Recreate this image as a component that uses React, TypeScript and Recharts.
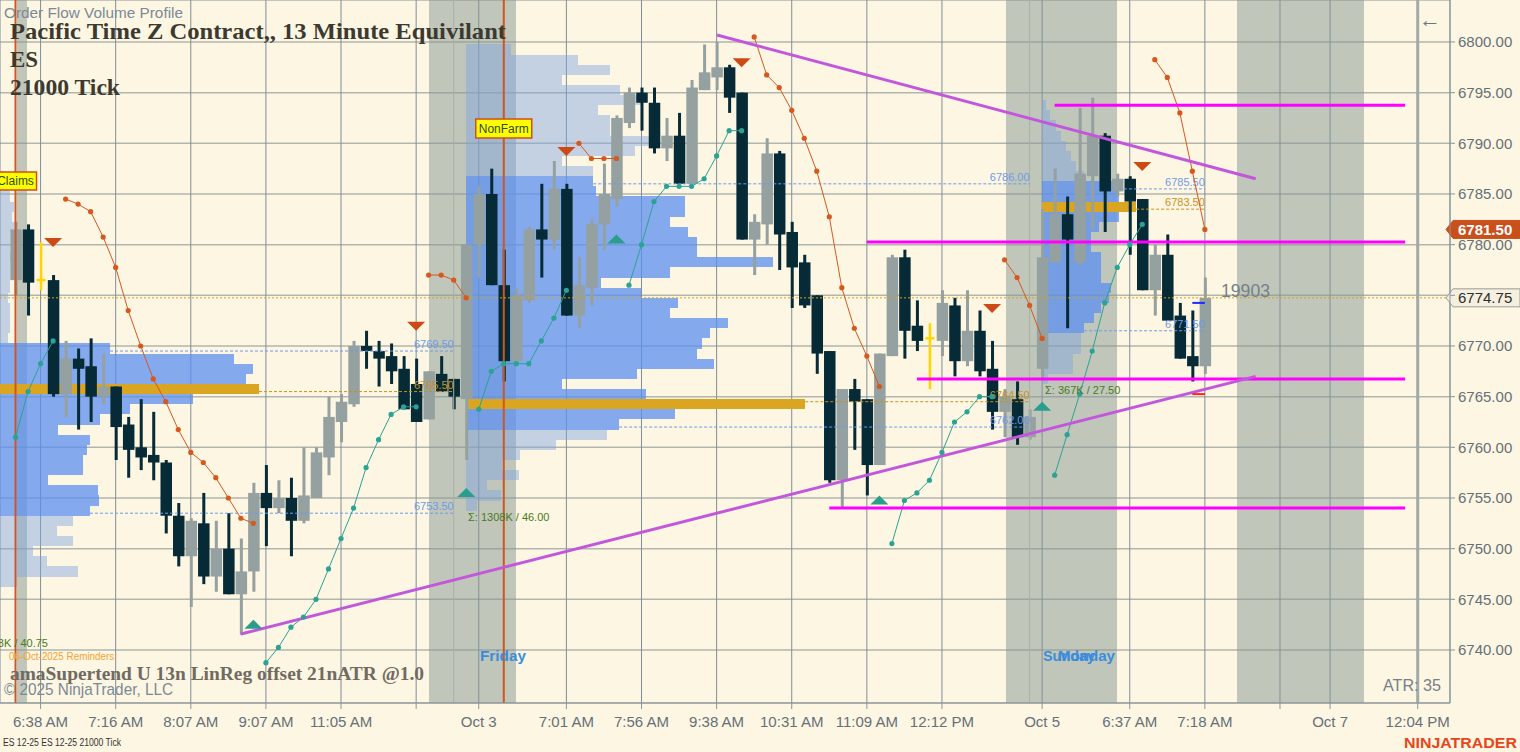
import React from "react";
import {
  ComposedChart,
  Bar,
  Line,
  Scatter,
  XAxis,
  YAxis,
  CartesianGrid,
  ReferenceLine,
  ReferenceArea,
} from "recharts";

// ---------- ES 12-25, 21000 tick bars ----------
const OPEN = [
  6776.5, 6781.5, 6776.5, 6776.5, 6765.25, 6768.75, 6768.0, 6765.0, 6766.0, 6762.25,
  6760.0, 6759.25, 6758.5, 6753.25, 6749.25, 6752.5, 6747.25, 6750.0, 6745.5, 6747.75,
  6755.5, 6754.0, 6755.0, 6752.75, 6755.0, 6759.0, 6762.5, 6764.25, 6770.0, 6769.5,
  6769.0, 6767.75, 6766.25, 6762.75, 6767.25, 6766.75, 6764.75, 6780.0, 6785.0, 6776.0,
  6768.5, 6774.5, 6781.5, 6780.5, 6785.5, 6773.0, 6775.75, 6782.0, 6784.5, 6792.0,
  6795.0, 6794.0, 6789.5, 6790.75, 6786.0, 6795.25, 6796.5, 6797.5, 6795.0, 6780.5,
  6782.0, 6789.0, 6781.25, 6778.25, 6775.0, 6769.5, 6756.75, 6765.75, 6764.75, 6758.25,
  6769.0, 6778.75, 6772.0, 6770.75, 6770.5, 6774.0, 6768.5, 6771.5, 6767.75, 6763.5,
  6764.75, 6761.0, 6767.75, 6778.25, 6783.0, 6778.25, 6786.75, 6790.75, 6785.25, 6786.5,
  6784.5, 6775.5, 6779.0, 6773.0, 6769.0, 6768.0,
];
const HIGH = [
  6782.25, 6782.0, 6780.25, 6777.0, 6770.5, 6769.75, 6770.75, 6769.25, 6766.0, 6763.0,
  6764.75, 6763.5, 6758.75, 6754.5, 6753.0, 6755.5, 6752.75, 6753.5, 6751.0, 6756.5,
  6758.25, 6756.75, 6757.0, 6760.0, 6760.0, 6765.0, 6765.25, 6770.5, 6771.5, 6770.5,
  6770.25, 6769.0, 6768.75, 6767.5, 6769.0, 6766.75, 6780.0, 6785.75, 6787.5, 6779.5,
  6775.75, 6781.75, 6786.0, 6788.25, 6786.0, 6778.75, 6782.5, 6788.0, 6792.75, 6795.5,
  6795.5, 6795.5, 6792.5, 6793.0, 6796.25, 6799.75, 6800.0, 6797.75, 6795.0, 6783.0,
  6790.5, 6789.25, 6782.25, 6779.0, 6775.0, 6769.5, 6765.75, 6766.75, 6764.75, 6769.25,
  6779.0, 6779.5, 6774.5, 6772.25, 6775.5, 6774.75, 6775.5, 6773.5, 6770.5, 6765.75,
  6766.5, 6763.75, 6783.5, 6787.5, 6784.75, 6793.5, 6794.5, 6791.0, 6787.0, 6786.75,
  6784.5, 6780.0, 6781.0, 6774.25, 6773.5, 6776.75,
];
const LOW = [
  6775.0, 6773.0, 6775.5, 6765.0, 6763.0, 6761.75, 6762.5, 6764.25, 6758.75, 6757.0,
  6757.75, 6756.75, 6751.5, 6748.25, 6744.25, 6746.5, 6745.75, 6745.5, 6741.5, 6745.75,
  6750.25, 6753.5, 6749.25, 6752.5, 6755.0, 6757.25, 6760.5, 6764.0, 6767.75, 6766.0,
  6766.25, 6763.75, 6762.5, 6762.75, 6765.5, 6763.75, 6758.75, 6776.75, 6776.0, 6766.5,
  6768.5, 6774.25, 6776.75, 6779.5, 6773.0, 6771.75, 6774.0, 6779.5, 6783.75, 6791.5,
  6791.25, 6789.0, 6788.25, 6786.0, 6786.0, 6795.25, 6795.25, 6793.0, 6780.5, 6777.0,
  6780.0, 6777.5, 6773.75, 6773.75, 6767.25, 6756.5, 6754.0, 6759.75, 6755.25, 6758.25,
  6769.0, 6768.75, 6769.5, 6765.75, 6769.0, 6767.0, 6768.0, 6767.0, 6761.75, 6761.0,
  6760.25, 6760.75, 6766.75, 6778.25, 6771.75, 6778.0, 6781.5, 6781.25, 6784.75, 6779.0,
  6775.5, 6773.0, 6772.5, 6768.75, 6766.5, 6767.25,
];
const CLOSE = [
  6781.5, 6776.25, 6776.5, 6765.25, 6768.75, 6767.75, 6765.0, 6766.0, 6762.0, 6759.75,
  6759.0, 6758.5, 6753.25, 6749.25, 6752.75, 6747.25, 6750.0, 6745.5, 6747.75, 6755.5,
  6754.0, 6755.0, 6752.75, 6755.25, 6759.5, 6763.0, 6764.5, 6770.0, 6769.5, 6768.75,
  6767.5, 6763.75, 6762.5, 6767.5, 6765.5, 6765.0, 6780.0, 6785.0, 6776.0, 6768.5,
  6775.0, 6781.5, 6780.5, 6785.5, 6773.0, 6776.0, 6782.0, 6785.0, 6792.5, 6795.0,
  6794.0, 6789.5, 6790.75, 6786.0, 6795.5, 6797.0, 6797.5, 6794.5, 6780.5, 6782.25,
  6789.0, 6781.0, 6777.75, 6774.0, 6769.25, 6756.75, 6765.75, 6764.5, 6758.25, 6769.25,
  6778.75, 6771.5, 6770.5, 6770.75, 6774.25, 6768.5, 6771.5, 6767.5, 6763.5, 6765.0,
  6761.0, 6763.0, 6778.75, 6783.0, 6780.5, 6787.0, 6790.75, 6785.25, 6786.5, 6784.25,
  6775.5, 6779.0, 6772.5, 6768.75, 6768.0, 6774.75,
];
// bars painted by the pattern marker
const MARKED_BARS = [2, 73];

// ---------- amaSupertrend stops [bar, price] ----------
const STOP_DOWN: [number, number][] = [
  [4, 6784.5], [5, 6784.0], [6, 6783.25], [7, 6780.75], [8, 6777.75], [9, 6773.5], [10, 6770.0],
  [11, 6766.75], [12, 6764.5], [13, 6761.75], [14, 6759.5], [15, 6758.5], [16, 6757.0],
  [17, 6755.0], [18, 6753.0], [19, 6752.5],
  [33, 6777.0], [34, 6777.0], [35, 6776.5], [36, 6774.75],
  [45, 6790.0], [46, 6788.5], [47, 6788.5], [48, 6788.5],
  [59, 6800.5], [60, 6796.75], [61, 6795.5], [62, 6793.25], [63, 6790.5], [64, 6787.25],
  [65, 6782.75], [66, 6775.75], [67, 6771.75], [68, 6769.0], [69, 6766.0],
  [79, 6778.5], [80, 6776.75], [81, 6774.0], [82, 6770.75],
  [91, 6798.25], [92, 6796.5], [93, 6793.0], [94, 6787.25], [95, 6781.5],
];
const STOP_UP: [number, number][] = [
  [0, 6761.0], [1, 6765.5], [2, 6768.25], [3, 6770.5],
  [20, 6738.75], [21, 6740.25], [22, 6742.25], [23, 6743.25], [24, 6745.0], [25, 6748.0],
  [26, 6751.0], [27, 6754.0], [28, 6758.0], [29, 6760.75], [30, 6763.25], [31, 6764.0], [32, 6764.0],
  [37, 6763.75], [38, 6767.5], [39, 6768.25], [40, 6768.25], [41, 6768.25], [42, 6770.5],
  [43, 6772.75], [44, 6775.5],
  [49, 6776.0], [50, 6780.0], [51, 6784.25], [52, 6785.75], [53, 6785.75], [54, 6785.75],
  [55, 6786.5], [56, 6788.75], [57, 6791.25], [58, 6791.25],
  [70, 6750.5], [71, 6754.75], [72, 6755.5], [73, 6756.75], [74, 6759.5], [75, 6762.5],
  [76, 6763.5], [77, 6765.0], [78, 6765.0],
  [83, 6757.25], [84, 6761.25], [85, 6765.25], [86, 6769.5], [87, 6774.25], [88, 6777.75],
  [89, 6780.0], [90, 6782.0],
];
const SELL_SIGNALS: [number, number][] = [
  [3, 6780.25], [32, 6772.0], [44, 6789.25], [58, 6798.0], [78, 6773.75], [90, 6787.75],
];
const BUY_SIGNALS: [number, number][] = [
  [19, 6742.5], [36, 6755.5], [48, 6780.5], [69, 6754.75], [82, 6764.0],
];

// ---------- Order Flow Volume Profile (K contracts per 1-point row, top row first) ----------
const VP_LEFT_VOL = [
  1.8, 2.4, 3.0, 4.2, 3.6, 4.2, 3.0, 3.0, 3.3, 3.0, 3.0, 3.0, 2.4, 3.0, 3.0, 3.0, 2.4,
  33.0, 70.2, 75.9, 73.8, 77.7, 57.9, 39.0, 30.0, 17.4, 27.0, 26.1, 24.9, 24.9, 14.4, 29.4, 29.7, 27.0,
  21.9, 17.1, 21.9, 9.9, 14.1, 23.4, 5.1,
];
const VP_MID_VOL = [
  8.0, 19.8, 25.5, 17.1, 27.4, 31.0, 23.5, 25.6, 25.6, 34.0, 30.1, 17.1, 22.6,
  22.6, 23.0, 39.0, 39.0, 36.3, 39.5, 41.1, 41.1, 54.6, 36.3, 23.9, 31.0, 37.7, 36.3, 46.5,
  43.4, 42.0, 41.1, 44.0, 30.4, 17.1, 31.9, 60.3, 37.2, 27.2,
  25.1, 16.0, 9.6, 6.4, 9.3, 3.7, 6.1, 2.0,
];
const VP_RIGHT_VOL = [
  1.0, 2.3, 4.1, 5.5, 7.0, 8.4, 9.9, 12.2,
  22.3, 22.3, 27.3, 22.3, 16.5, 14.2, 14.2, 17.1, 17.1, 17.1, 20.0, 19.4, 17.1, 15.1, 12.2,
  11.3, 11.3, 9.0, 9.0, 1.8,
];
const VP_TOP_ROW = [6786.75, 6799.25, 6793.75];
const VP_START_BAR = [-1.24, 36, 82];
const VP_SESSION_END = [35, 81, 95];
const VP_VAH = [6769.5, 6786.0, 6785.5];
const VP_VAL = [6753.5, 6762.0, 6771.5];
const VP_POC = [6765.5, 6764.5, 6783.5];
const VP_RANGE = [40.75, 46.0, 27.5];

// ---------- chart furniture ----------
const X_MIN = -1.24;
const X_MAX = 114.58;
const PRICE_MIN = 6734.77;
const PRICE_MAX = 6804.14;
const PRICE_TICKS = [6740, 6745, 6750, 6755, 6760, 6765, 6770, 6775, 6780, 6785, 6790, 6795, 6800];
const TIME_TICK_BARS = [2, 8, 14, 20, 26, 32, 37, 44, 50, 56, 62, 68, 74, 82, 89, 95, 101, 105, 112];
const TIME_TICK_LABELS = [
  "6:38 AM", "7:16 AM", "8:07 AM", "9:07 AM", "11:05 AM", "", "Oct 3", "7:01 AM", "7:56 AM",
  "9:38 AM", "10:31 AM", "11:09 AM", "12:12 PM", "Oct 5", "6:37 AM", "7:18 AM", "", "Oct 7", "12:04 PM",
];
const SESSION_SHADES: [number, number][] = [[0.1, 0.9], [33, 40], [79.1, 88], [97.6, 107.7]];
const SESSION_BREAK_BARS = [35, 81];
const EVENT_BARS = [0, 39];
const EVENT_NAMES = ["Claims", "NonFarm"];
const NOW_BAR = 112;
const LEVELS = [6793.75, 6780.25, 6766.75, 6754.0];
const LEVEL_FROM = [83, 68, 72, 65];
const LEVEL_TO = 111;
const TRENDLINES: [number, number, number, number][] = [
  [56.03, 6800.69, 99.06, 6786.5],
  [18.01, 6741.58, 99.06, 6767.0],
];
const ORDER_MARKS: [number, number, number, string][] = [
  [94, 95, 6774.25, "#1a2cff"],
  [94, 95, 6765.25, "#ff2020"],
];

const BG = "#fdf6e3";
const UP_COLOR = "#95a0a0";
const DOWN_COLOR = "#062a36";
const MARK_COLOR = "#ffd400";
const STOP_DOWN_COLOR = "#d5581f";
const STOP_UP_COLOR = "#2aa394";
const SANS = '"Liberation Sans", Arial, sans-serif';
const SERIF = '"Liberation Serif", "Times New Roman", serif';
const AXIS_TEXT = "#667078";

const downMap = new Map(STOP_DOWN);
const upMap = new Map(STOP_UP);
const bars = OPEN.map((o, i) => ({
  i,
  o,
  h: HIGH[i],
  l: LOW[i],
  c: CLOSE[i],
  range: [LOW[i], HIGH[i]],
  marked: MARKED_BARS.includes(i),
  dn: downMap.has(i) ? downMap.get(i) : null,
  up: upMap.has(i) ? upMap.get(i) : null,
}));
const sells = SELL_SIGNALS.map(([i, p]) => ({ i, p }));
const buys = BUY_SIGNALS.map(([i, p]) => ({ i, p }));
const LAST_PRICE = CLOSE[CLOSE.length - 1];
const LAST_STOP = STOP_DOWN[STOP_DOWN.length - 1][1];

// widest row of each profile spans this many bars
const VP_MAX_SPAN = [20.69, 27.08, 7.51];

const profiles = [VP_LEFT_VOL, VP_MID_VOL, VP_RIGHT_VOL].map((vols, k) => {
  const max = Math.max(...vols);
  const rows = vols.map((v, r) => {
    const c = VP_TOP_ROW[k] - r;
    return {
      c,
      x2: VP_START_BAR[k] + (v / max) * VP_MAX_SPAN[k],
      poc: v === max,
      va: c + 0.5 > VP_VAL[k] && c - 0.5 <= VP_VAH[k],
    };
  });
  const rowEnd = (p: number) => {
    const r = rows.find((row) => p >= row.c - 0.5 && p < row.c + 0.5);
    return r ? r.x2 : VP_START_BAR[k];
  };
  const total = vols.reduce((a, b) => a + b, 0);
  return { k, rows, rowEnd, total };
});

function Candle(props: any) {
  const { x, y, width, height, payload } = props;
  if (!payload || x == null || y == null) return null;
  const top = Math.min(y, y + height);
  const bottom = Math.max(y, y + height);
  const span = payload.h - payload.l;
  const py = (p: number) => (span > 0 ? top + ((payload.h - p) / span) * (bottom - top) : top);
  const cx = x + width / 2;
  if (payload.marked) {
    const yc = py(payload.c);
    return (
      <g>
        <rect x={cx - 1.25} y={top} width={2.5} height={bottom - top} fill={MARK_COLOR} />
        <rect x={cx - 4.5} y={yc - 1.25} width={9} height={2.5} fill={MARK_COLOR} />
      </g>
    );
  }
  const color = payload.c >= payload.o ? UP_COLOR : DOWN_COLOR;
  const yo = py(payload.o);
  const yc = py(payload.c);
  const bTop = Math.min(yo, yc);
  const bH = Math.max(1.5, Math.abs(yc - yo));
  return (
    <g>
      <rect x={cx - 1.5} y={top} width={3} height={Math.max(1, bottom - top)} fill={color} />
      <rect x={x} y={bTop} width={width} height={bH} fill={color} />
    </g>
  );
}

// price labels; the one under the last-price tag is covered by the tag
function PriceTick(props: any) {
  const { x, y, payload, textAnchor } = props;
  if (Math.abs(payload.value - LAST_PRICE) < 1.5) return null;
  return (
    <text x={x} y={y} dy="0.355em" textAnchor={textAnchor || "start"} fill={AXIS_TEXT} fontSize={15} fontFamily={SANS}>
      {Number(payload.value).toFixed(2)}
    </text>
  );
}

const SellTri = (p: any) => (
  <polygon points={`${p.cx - 9},${p.cy - 4} ${p.cx + 9},${p.cy - 4} ${p.cx},${p.cy + 5}`} fill="#cc4a15" />
);
const BuyTri = (p: any) => (
  <polygon points={`${p.cx - 9},${p.cy + 4} ${p.cx + 9},${p.cy + 4} ${p.cx},${p.cy - 5}`} fill="#2a9d8c" />
);

const lineLabel = (text: string, color: string) => (props: any) => {
  const vb = props.viewBox || {};
  return (
    <text x={vb.x + vb.width} y={vb.y - 3} textAnchor="end" fontSize={11} fontFamily={SANS} fill={color}>
      {text}
    </text>
  );
};

const eventLabel = (text: string, top: number, w: number, h: number) => (props: any) => {
  const vb = props.viewBox || {};
  return (
    <g>
      <rect x={vb.x - w / 2} y={top} width={w} height={h} fill="#ffff00" stroke="#d24e1c" strokeWidth={1.5} />
      <text x={vb.x} y={top + h / 2 + 4} textAnchor="middle" fontSize={12} fontFamily={SANS} fill="#2f4a1c">
        {text}
      </text>
    </g>
  );
};

const priceTag = (text: string, fill: string, stroke: string, color: string, bold: boolean) => (props: any) => {
  const vb = props.viewBox || {};
  const x0 = vb.x + vb.width - 4;
  const y0 = vb.y;
  const h = 18;
  return (
    <g>
      <polygon
        points={`${x0},${y0} ${x0 + 7},${y0 - h / 2} ${x0 + 74},${y0 - h / 2} ${x0 + 74},${y0 + h / 2} ${x0 + 7},${y0 + h / 2}`}
        fill={fill}
        stroke={stroke}
        strokeWidth={1}
      />
      <text x={x0 + 12} y={y0 + 5.5} fontSize={15} fontWeight={bold ? 700 : 400} fontFamily={SANS} fill={color}>
        {text}
      </text>
    </g>
  );
};

const rowShape = (fill: string, opacity: number) => (p: any) => (
  <rect x={p.x} y={p.y} width={p.width} height={p.height} fill={fill} fillOpacity={opacity} shapeRendering="crispEdges" />
);

export default function App() {
  return (
    <div style={{ position: "absolute", left: 0, top: 0, width: 1520, height: 752, background: BG, overflow: "hidden" }}>
      <ComposedChart width={1520} height={752} data={bars} margin={{ top: 0, right: 0, bottom: 0, left: 0 }}>
        {SESSION_SHADES.map(([a, b], n) => (
          <ReferenceArea key={`s${n}`} x1={a} x2={b} ifOverflow="hidden" shape={rowShape("#839691", 0.5)} />
        ))}
        <CartesianGrid vertical={false} stroke="#b2b6ae" strokeWidth={1.5} />
        <CartesianGrid horizontal={false} stroke="#7f8e99" strokeWidth={1} />
        <XAxis
          dataKey="i"
          type="number"
          domain={[X_MIN, X_MAX]}
          allowDataOverflow
          ticks={TIME_TICK_BARS}
          interval={0}
          tickFormatter={(v: number) => TIME_TICK_LABELS[TIME_TICK_BARS.indexOf(v)] ?? ""}
          height={49}
          tickSize={6}
          tickMargin={7}
          stroke="#8b959b"
          tick={{ fill: AXIS_TEXT, fontSize: 15, fontFamily: SANS }}
        />
        <YAxis
          orientation="right"
          type="number"
          domain={[PRICE_MIN, PRICE_MAX]}
          allowDataOverflow
          ticks={PRICE_TICKS}
          interval={0}
          width={70}
          tickSize={5}
          tickMargin={3}
          stroke="#8b959b"
          tick={<PriceTick />}
        />
        {SESSION_BREAK_BARS.map((b) => (
          <ReferenceLine key={`b${b}`} x={b} stroke="#a9b0aa" strokeWidth={1} />
        ))}
        <ReferenceLine x={NOW_BAR} stroke="#a2aaa8" strokeWidth={3} />

        {profiles.map((pf) =>
          pf.rows.map((r, n) => (
            <ReferenceArea
              key={`vp${pf.k}-${n}`}
              x1={VP_START_BAR[pf.k]}
              x2={r.x2}
              y1={r.c - 0.5}
              y2={r.c + 0.5}
              ifOverflow="hidden"
              shape={r.poc ? rowShape("#daa520", 1) : r.va ? rowShape("#5b8ff0", 0.75) : rowShape("#7fa3e0", 0.45)}
            />
          ))
        )}
        {profiles.map((pf) => {
          const k = pf.k;
          const end = VP_SESSION_END[k];
          return [
            <ReferenceLine
              key={`vah${k}`}
              segment={[{ x: pf.rowEnd(VP_VAH[k]), y: VP_VAH[k] }, { x: end, y: VP_VAH[k] }]}
              stroke="#6f9be8"
              strokeDasharray="3 2"
              ifOverflow="visible"
              label={lineLabel(VP_VAH[k].toFixed(2), "#6f9be8")}
            />,
            <ReferenceLine
              key={`val${k}`}
              segment={[{ x: pf.rowEnd(VP_VAL[k]), y: VP_VAL[k] }, { x: end, y: VP_VAL[k] }]}
              stroke="#6f9be8"
              strokeDasharray="3 2"
              ifOverflow="visible"
              label={lineLabel(VP_VAL[k].toFixed(2), "#6f9be8")}
            />,
            <ReferenceLine
              key={`poc${k}`}
              segment={[{ x: pf.rowEnd(VP_POC[k]), y: VP_POC[k] }, { x: end, y: VP_POC[k] }]}
              stroke="#c8921c"
              strokeDasharray="3 2"
              ifOverflow="visible"
              label={lineLabel(VP_POC[k].toFixed(2), "#c8921c")}
            />,
          ];
        })}
        {EVENT_BARS.map((b, n) => (
          <ReferenceLine
            key={`e${b}`}
            x={b}
            stroke="#d2541f"
            strokeWidth={2}
            ifOverflow="visible"
            label={n === 0 ? eventLabel(EVENT_NAMES[n], 172, 42, 18) : eventLabel(EVENT_NAMES[n], 119, 56, 19)}
          />
        ))}
        <ReferenceLine y={LAST_PRICE} stroke="#d4a11c" strokeDasharray="2 2" strokeWidth={1} />

        <Bar dataKey="range" barSize={11.5} shape={<Candle />} isAnimationActive={false} />

        <Line
          dataKey="dn"
          stroke={STOP_DOWN_COLOR}
          strokeWidth={1}
          dot={{ r: 2.6, fill: STOP_DOWN_COLOR, stroke: STOP_DOWN_COLOR, strokeWidth: 0 }}
          activeDot={false}
          connectNulls={false}
          isAnimationActive={false}
        />
        <Line
          dataKey="up"
          stroke={STOP_UP_COLOR}
          strokeWidth={1}
          dot={{ r: 2.6, fill: STOP_UP_COLOR, stroke: STOP_UP_COLOR, strokeWidth: 0 }}
          activeDot={false}
          connectNulls={false}
          isAnimationActive={false}
        />
        <Scatter data={sells} dataKey="p" shape={SellTri} isAnimationActive={false} />
        <Scatter data={buys} dataKey="p" shape={BuyTri} isAnimationActive={false} />

        {LEVELS.map((p, n) => (
          <ReferenceLine
            key={`lv${n}`}
            segment={[{ x: LEVEL_FROM[n], y: p }, { x: LEVEL_TO, y: p }]}
            stroke="#ff00ff"
            strokeWidth={3}
            ifOverflow="visible"
          />
        ))}
        {TRENDLINES.map(([x1, y1, x2, y2], n) => (
          <ReferenceLine
            key={`tl${n}`}
            segment={[{ x: x1, y: y1 }, { x: x2, y: y2 }]}
            stroke="#c257dc"
            strokeWidth={3}
            ifOverflow="visible"
          />
        ))}
        {ORDER_MARKS.map(([a, b, p, col], n) => (
          <ReferenceLine key={`om${n}`} segment={[{ x: a, y: p }, { x: b, y: p }]} stroke={col} strokeWidth={2} ifOverflow="visible" />
        ))}
        <ReferenceLine
          y={LAST_PRICE}
          stroke="none"
          strokeOpacity={0}
          label={priceTag(LAST_PRICE.toFixed(2), "#f5efdf", "#9a9c98", "#2d2d2d", false)}
        />
        <ReferenceLine
          y={LAST_STOP}
          stroke="none"
          strokeOpacity={0}
          label={priceTag(LAST_STOP.toFixed(2), "#c9501c", "#c9501c", "#ffffff", true)}
        />
      </ComposedChart>

      <svg width={1520} height={752} style={{ position: "absolute", left: 0, top: 0, pointerEvents: "none" }}>
        <text x={4} y={18} fontSize={15} fontFamily={SANS} fill="#7b8a96" textLength={179} lengthAdjust="spacingAndGlyphs">
          Order Flow Volume Profile
        </text>
        <text x={10} y={39} fontSize={23} fontWeight={700} fontFamily={SERIF} fill="#3c3a30" textLength={496} lengthAdjust="spacingAndGlyphs">
          Pacific Time Z Contract,, 13 Minute Equivilant
        </text>
        <text x={10} y={67} fontSize={23} fontWeight={700} fontFamily={SERIF} fill="#3c3a30">
          ES
        </text>
        <text x={10} y={95} fontSize={23} fontWeight={700} fontFamily={SERIF} fill="#3c3a30" textLength={110} lengthAdjust="spacingAndGlyphs">
          21000 Tick
        </text>
        <text x={48} y={647} textAnchor="end" fontSize={11} fontFamily={SANS} fill="#4a7a22">
          {`Σ: ${Math.round(profiles[0].total)}K / ${VP_RANGE[0].toFixed(2)}`}
        </text>
        <text x={468} y={521} fontSize={11} fontFamily={SANS} fill="#4a7a22">
          {`Σ: ${Math.round(profiles[1].total)}K / ${VP_RANGE[1].toFixed(2)}`}
        </text>
        <text x={1045} y={394} fontSize={11} fontFamily={SANS} fill="#4a7a22">
          {`Σ: ${Math.round(profiles[2].total)}K / ${VP_RANGE[2].toFixed(2)}`}
        </text>
        <text x={9} y={660} fontSize={10.5} fontFamily={SANS} fill="#f4a22c" textLength={108} lengthAdjust="spacingAndGlyphs">
          06-Oct-2025 Reminders:
        </text>
        <text x={10} y={680} fontSize={19} fontWeight={700} fontFamily={SERIF} fill="#706b62" textLength={414} lengthAdjust="spacingAndGlyphs">
          amaSupertend U 13n LinReg offset 21nATR @1.0
        </text>
        <text x={4} y={695} fontSize={17} fontFamily={SANS} fill="#7b8a96" textLength={169} lengthAdjust="spacingAndGlyphs">
          © 2025 NinjaTrader, LLC
        </text>
        <text x={503} y={661} textAnchor="middle" fontSize={15} fontWeight={700} fontFamily={SANS} fill="#3b8ddb" textLength={46} lengthAdjust="spacingAndGlyphs">
          Friday
        </text>
        <text x={1043} y={661} fontSize={15} fontWeight={700} fontFamily={SANS} fill="#3b8ddb" textLength={52} lengthAdjust="spacingAndGlyphs">
          Sunday
        </text>
        <text x={1058} y={661} fontSize={15} fontWeight={700} fontFamily={SANS} fill="#3b8ddb" textLength={57} lengthAdjust="spacingAndGlyphs">
          Monday
        </text>
        <text x={1221} y={297} fontSize={18} fontFamily={SANS} fill="#75808a" textLength={49} lengthAdjust="spacingAndGlyphs">
          19903
        </text>
        <text x={1441} y={691} textAnchor="end" fontSize={16} fontFamily={SANS} fill="#75808a" textLength={58} lengthAdjust="spacingAndGlyphs">
          ATR: 35
        </text>
        <text x={1419} y={27} fontSize={22} fontFamily={SANS} fill="#6c777f">
          ←
        </text>
        <text x={3} y={746} fontSize={10} fontFamily={SANS} fill="#333333" textLength={118} lengthAdjust="spacingAndGlyphs">
          ES 12-25 ES 12-25 21000 Tick
        </text>
        <text x={1404} y={748} fontSize={14} fontWeight={700} fontFamily={SANS} fill="#e5461c" textLength={113} lengthAdjust="spacingAndGlyphs">
          NINJATRADER
        </text>
      </svg>
    </div>
  );
}
